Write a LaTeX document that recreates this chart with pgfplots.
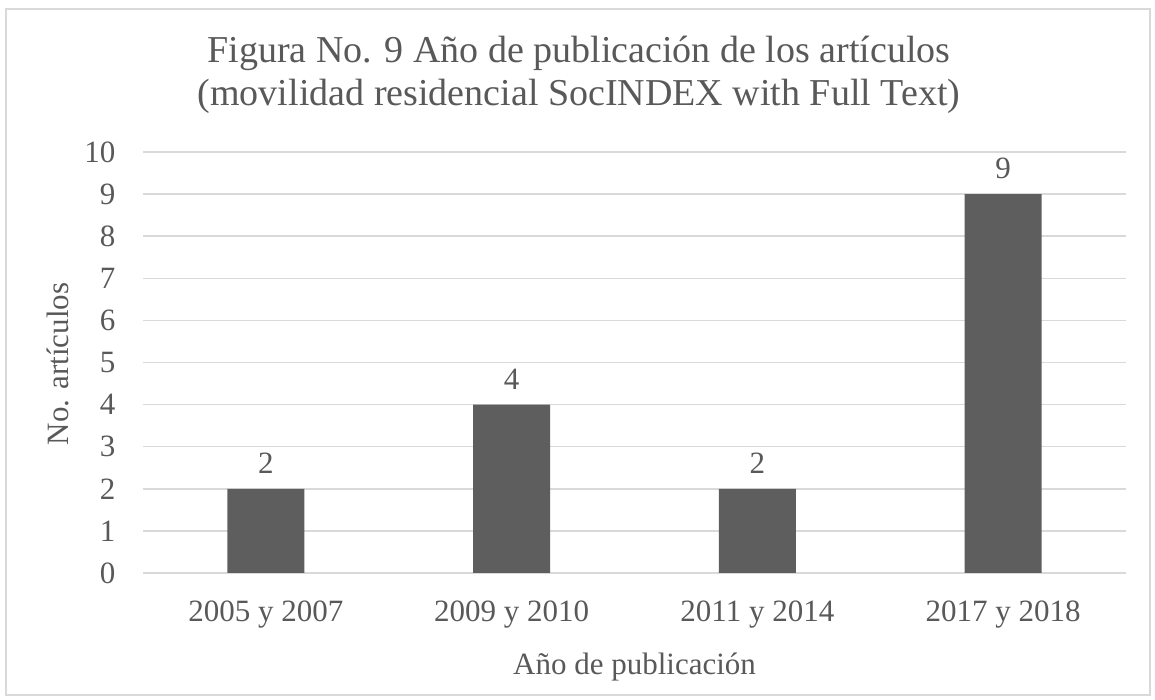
\documentclass[border=0pt]{standalone}
\usepackage{fontspec}
\setmainfont{Liberation Serif}
\usepackage{pgfplots}
\pgfplotsset{compat=1.18}
\definecolor{txt}{HTML}{595959}
\definecolor{barc}{HTML}{5E5E5E}
\definecolor{gridc}{HTML}{D9D9D9}
\begin{document}
\begin{tikzpicture}[x=1pt,y=1pt]
\path (0,0) rectangle (1155,700);
\draw[gridc,line width=1.5pt,fill=white] (6,5) rectangle (1150,691);
\node[txt,font=\fontsize{38}{43}\selectfont,align=center,anchor=center] at (579,625) {Figura No. 9 Año de publicación de los artículos\\(movilidad residencial SocINDEX with Full Text)};
\node[txt,font=\fontsize{31}{36}\selectfont,rotate=90] at (58,336) {No. artículos};
\node[txt,font=\fontsize{31}{36}\selectfont] at (634.5,33) {Año de publicación};
\begin{axis}[
  at={(265.875pt,127pt)}, anchor=origin,
  scale only axis, width=983pt, height=421pt,
  xmin=-0.5, xmax=3.5, ymin=0, ymax=10,
  ytick={0,1,...,10},
  xtick={0,1,2,3},
  xticklabels={2005 y 2007,2009 y 2010,2011 y 2014,2017 y 2018},
  axis line style={draw=none},
  tick style={draw=none},
  xmajorgrids=false,
  ymajorgrids=true, grid style={draw=gridc,line width=1.5pt},
  ticklabel style={text=txt,font=\fontsize{31}{36}\selectfont},
  /pgf/number format/assume math mode=true,
  yticklabel style={xshift=-24pt},
  xticklabel style={yshift=-24pt},
  clip=false,
]
\addplot[ybar, bar width=77pt, fill=barc, draw=none,
  nodes near coords, nodes near coords style={text=txt,font=\fontsize{31}{36}\selectfont,anchor=south,yshift=12pt},
  point meta=y]
  coordinates {(0,2) (1,4) (2,2) (3,9)};
\end{axis}
\end{tikzpicture}
\end{document}
